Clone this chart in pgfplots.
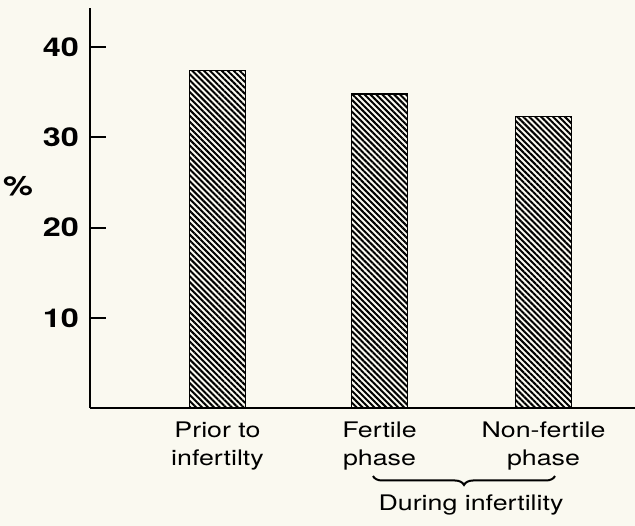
\documentclass[border=0pt]{standalone}
\usepackage{pgfplots}
\pgfplotsset{compat=1.18}
\usepackage{fontspec}
\setmainfont{TeX Gyre Heros}[FakeStretch=1.25]
\usetikzlibrary{patterns.meta,decorations.pathreplacing}
\definecolor{paper}{RGB}{250,249,240}
\begin{document}
\begin{tikzpicture}[x=1bp,y=1bp]
\path[use as bounding box, fill=paper] (0,0) rectangle (635,526);
\begin{axis}[
  at={(90bp,118bp)}, anchor=south west,
  scale only axis, width=545bp, height=400bp,
  xmin=90, xmax=635, ymin=0, ymax=44.35,
  axis lines=left,
  axis line style={-, line width=1.9bp},
  ytick={10,20,30,40},
  ytick pos=left,
  tick align=inside,
  major tick length=16bp,
  y tick style={line width=1.9bp, black},
  /pgf/number format/assume math mode=true,
  yticklabel style={font=\fontsize{26}{26}\selectfont\bfseries, inner sep=0bp, xshift=-11bp},
  xtick={217.5,379.5,543.5},
  xticklabels={Prior to\\infertilty, Fertile\\phase, Non-fertile\\phase},
  x tick style={draw=none},
  xticklabel style={align=center, font=\fontsize{21.5}{28}\selectfont, anchor=north, inner sep=0bp, yshift=-14bp},
  clip=false,
]
\addplot[ybar, bar width=56, draw=black, line width=1.6bp,
  pattern={Lines[angle=-45,distance=4.2bp,line width=2bp]}]
  coordinates {(217.5,37.4) (379.5,34.8) (543.5,32.3)};
\end{axis}
\node at (18,340) {\fontsize{27}{27}\selectfont\bfseries\%};
\draw[line width=2bp, decorate, decoration={brace, mirror, amplitude=9bp}] (373,50) -- (555,50);
\node[anchor=base] at (471,15) {\fontsize{21.5}{24}\selectfont During infertility};
\end{tikzpicture}
\end{document}
